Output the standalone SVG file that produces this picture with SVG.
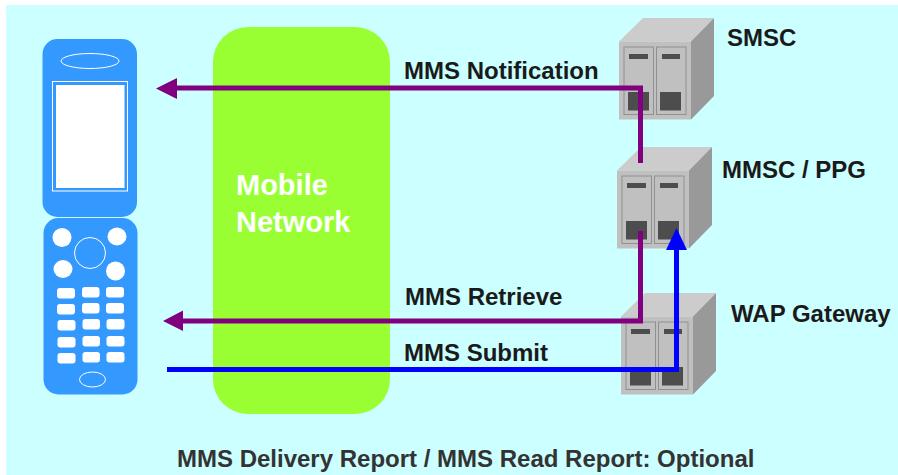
<svg xmlns="http://www.w3.org/2000/svg" xmlns:xlink="http://www.w3.org/1999/xlink" width="898" height="475" viewBox="0 0 898 475">
<style>
text{font-family:"Liberation Sans",Arial,sans-serif;font-weight:700}
.lbl{font-size:24px;fill:#1a1a1a}
.net{font-size:29px;fill:#fff}
.body{fill:#3399ff}
.ln{fill:none;stroke:#fff;stroke-width:1}
.w{fill:#fff}
.conn{fill:none;stroke-width:5}
</style>
<defs>
<g id="server">
<polygon points="0,23.5 24,0 95,0 72,23.5" fill="#cccccc"/>
<polygon points="72,23.5 95,0 95,78 72,101.500" fill="#999999"/>
<rect x="0" y="23.5" width="72" height="78" fill="#c0c0c0"/>
<rect x="5" y="29" width="29.500" height="67.500" fill="none" stroke="#909090" stroke-width="1"/>
<rect x="37.500" y="29" width="29.500" height="67.500" fill="none" stroke="#909090" stroke-width="1"/>
<rect x="10" y="36" width="19" height="5" fill="#4d4d4d"/>
<rect x="43" y="36" width="18" height="5" fill="#4d4d4d"/>
<rect x="9" y="74" width="21" height="18.500" fill="#4d4d4d"/>
<rect x="41" y="74" width="21" height="18.500" fill="#4d4d4d"/>
</g>
</defs>
<rect x="0" y="0" width="898" height="475" fill="#ffffff"/>
<rect id="background" x="6" y="5" width="892" height="470" fill="#ccffff"/>
<g id="network">
<rect x="213" y="27" width="177" height="387" rx="35" ry="35" fill="#99ff33"/>
<text class="net" x="236" y="195">Mobile</text>
<text class="net" x="236" y="232">Network</text>
</g>
<g id="phone">
<rect class="body" x="42.500" y="39" width="94.500" height="178" rx="15" ry="15"/>
<ellipse class="ln" cx="90" cy="61" rx="29" ry="7.500"/>
<rect class="ln" x="52.500" y="81.500" width="75" height="109.500"/>
<rect class="w" x="56" y="85" width="68.500" height="103"/>
<rect class="body" x="43.500" y="218" width="94" height="176.500" rx="15" ry="15"/>
<ellipse class="w" cx="62" cy="237.500" rx="9.500" ry="9.500"/>
<ellipse class="w" cx="117" cy="236.500" rx="9.500" ry="9"/>
<ellipse class="w" cx="63" cy="269" rx="9.500" ry="9"/>
<ellipse class="w" cx="115.500" cy="271" rx="9.500" ry="9.500"/>
<circle class="ln" cx="90" cy="253" r="15.500"/>
<rect class="w" x="57" y="288" width="18" height="10.500" rx="3"/>
<rect class="w" x="57" y="304" width="18" height="10.500" rx="3"/>
<rect class="w" x="57.500" y="320" width="18" height="10.500" rx="3"/>
<rect class="w" x="57.500" y="337" width="18" height="10.500" rx="3"/>
<rect class="w" x="57.500" y="353" width="18" height="10.500" rx="3"/>
<rect class="w" x="82" y="287" width="17.500" height="10.500" rx="3"/>
<rect class="w" x="82" y="303" width="17.500" height="10.500" rx="3"/>
<rect class="w" x="82.500" y="319" width="17.500" height="10.500" rx="3"/>
<rect class="w" x="82.500" y="336" width="17.500" height="10.500" rx="3"/>
<rect class="w" x="82.500" y="352" width="17.500" height="10.500" rx="3"/>
<rect class="w" x="106" y="287" width="18" height="10.500" rx="3"/>
<rect class="w" x="106" y="303" width="18" height="10.500" rx="3"/>
<rect class="w" x="106.500" y="319" width="18" height="10.500" rx="3"/>
<rect class="w" x="106.500" y="336" width="18" height="10.500" rx="3"/>
<rect class="w" x="106.500" y="352" width="18" height="10.500" rx="3"/>
<ellipse class="ln" cx="92.500" cy="379.500" rx="13" ry="7.500"/>
</g>
<g id="smsc">
<use xlink:href="#server" href="#server" x="619" y="18"/>
<text class="lbl" x="727" y="46">SMSC</text>
</g>
<g id="mmsc">
<use xlink:href="#server" href="#server" x="617" y="147"/>
<text class="lbl" x="722" y="178">MMSC / PPG</text>
</g>
<g id="wap">
<use xlink:href="#server" href="#server" x="621" y="293"/>
<text class="lbl" x="731" y="322">WAP Gateway</text>
</g>
<g id="connectors">
<path class="conn" stroke="#800080" d="M177 88H640.500V163"/>
<polygon points="156,88.500 177,78 177,99" fill="#800080"/>
<path class="conn" stroke="#800080" d="M640.500 231V321H183"/>
<polygon points="163,321 183,310.500 183,331" fill="#800080"/>
<path class="conn" stroke="#0000ff" d="M167 369.500H676.500V250"/>
<polygon points="676.500,228 666,250 687,250" fill="#0000ff"/>
</g>
<g id="labels">
<text class="lbl" x="404" y="79">MMS Notification</text>
<text class="lbl" x="405" y="305">MMS Retrieve</text>
<text class="lbl" x="404" y="361">MMS Submit</text>
<text class="lbl" x="177" y="467" style="fill:#333333">MMS Delivery Report / MMS Read Report: Optional</text>
</g>
</svg>
